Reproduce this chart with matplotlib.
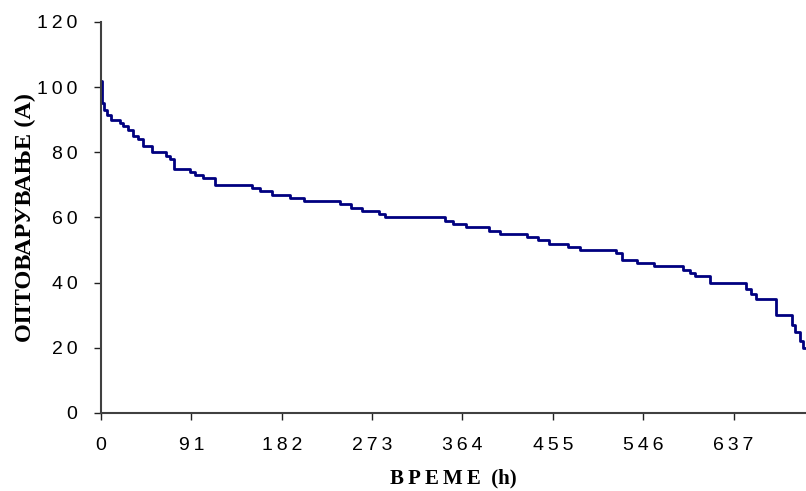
import matplotlib.pyplot as plt

# load duration curve: step start hours and load values (A)
hours = [0, 1, 3, 6, 10, 19, 22, 27, 32, 37, 42, 51, 65, 69, 74, 90, 95, 103, 115,
         152, 160, 172, 190, 204, 241, 252, 263, 280, 286, 346, 355, 368, 391, 402,
         429, 440, 451, 470, 482, 519, 525, 540, 557, 586, 593, 598, 613, 650, 655,
         660, 680, 696, 699, 704, 707, 710]
load = [102, 95, 93, 91.5, 90, 89, 88, 87, 85, 84, 82, 80, 79, 78, 75, 74, 73, 72,
        70, 69, 68, 67, 66, 65, 64, 63, 62, 61, 60, 59, 58, 57, 56, 55, 54, 53, 52,
        51, 50, 49, 47, 46, 45, 44, 43, 42, 40, 38, 36.5, 35, 30, 27, 25, 22, 20, 20]

x_ticks = [0, 91, 182, 273, 364, 455, 546, 637]
y_ticks = [0, 20, 40, 60, 80, 100, 120]

def spaced(v):
    # the original labels are letter-spaced
    return '\u2009'.join(str(v))

fig = plt.figure(figsize=(8.06, 4.91), dpi=100)
ax = fig.add_axes([0.1253, 0.1589, 0.8747, 0.7963])

ax.step(hours, load, where='post', color='#000080', linewidth=2)

ax.set_xlim(0, 710)
ax.set_ylim(0, 120)
ax.set_xticks(x_ticks)
ax.set_xticklabels([spaced(v) for v in x_ticks])
ax.set_yticks(y_ticks)
ax.set_yticklabels([spaced(v) for v in y_ticks])

for s in ['top', 'right']:
    ax.spines[s].set_visible(False)
for s in ['left', 'bottom']:
    ax.spines[s].set_color('#404040')
    ax.spines[s].set_linewidth(1.5)

ax.tick_params(direction='out', length=5, width=1, color='#202020', labelsize=14)
ax.tick_params(axis='x', pad=12)
ax.tick_params(axis='y', pad=12)
for lab in ax.get_xticklabels() + ax.get_yticklabels():
    lab.set_fontfamily(['Liberation Sans', 'DejaVu Sans'])

ax.set_ylabel('ОПТОВАРУВАЊЕ (А)', fontfamily='Liberation Serif',
              fontweight='bold', fontsize=17.5, labelpad=1)
ax.set_xlabel('В\u2009Р\u2009Е\u2009М\u2009Е  (h)', fontfamily=['Liberation Serif', 'DejaVu Sans'],
              fontweight='bold', fontsize=15, labelpad=11)

fig.savefig('out.png', dpi=100)
